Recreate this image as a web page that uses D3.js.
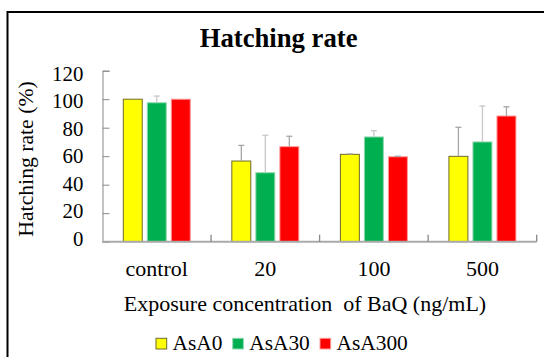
<!DOCTYPE html>
<html>
<head>
<meta charset="utf-8">
<script src="https://cdn.jsdelivr.net/npm/d3@7"></script>
<style>
  body { margin: 0; background: #fff; }
  text { font-family: "Liberation Serif", "Times New Roman", serif; fill: #000; }
</style>
</head>
<body>
<figure id="chart" style="margin:0"></figure>
<script>
// data
const categories = ["control", "20", "100", "500"];
const seriesNames = ["AsA0", "AsA30", "AsA300"];
const seriesColors = ["#ffff00", "#00b050", "#ff0000"];
const seriesStrokes = ["#6e6a2c", "#8fd8b0", "#ff9a9a"];
const asa0 = [100, 56.6, 61.3, 59.9];
const asa30 = [97.5, 48.4, 73.5, 70];
const asa300 = [100, 66.7, 59.6, 88.2];
const asa0Err = [100, 67.6, 61.6, 80.3];
const asa30Err = [102.2, 74.7, 77.9, 95.2];
const asa300Err = [100, 74, 60, 94.7];
const yTicks = [0, 20, 40, 60, 80, 100, 120];

const values = [asa0, asa30, asa300];
const errTops = [asa0Err, asa30Err, asa300Err];

const width = 544, height = 357;
const marginLeft = 102.5, marginRight = 7.3, marginTop = 70.7, marginBottom = 115.3;

const svg = d3.select("#chart").append("svg")
    .attr("width", width)
    .attr("height", height)
    .attr("viewBox", [0, 0, width, height]);

// outer frame (right/bottom edges fall outside the picture)
svg.append("rect")
    .attr("x", 7.5).attr("y", 12)
    .attr("width", 600).attr("height", 400)
    .attr("fill", "none")
    .attr("stroke", "#000")
    .attr("stroke-width", 2);

const x = d3.scaleBand()
    .domain(categories)
    .range([marginLeft, width - marginRight]);

const inner = d3.scaleBand()
    .domain(seriesNames)
    .range([x.bandwidth() / 2 - 33.5, x.bandwidth() / 2 + 33.5])
    .paddingInner(0.21);

const y = d3.scaleLinear()
    .domain([0, 120])
    .range([height - marginBottom, marginTop]);

// tick label baselines sit on a slightly tighter grid than the ticks
const yLabel = d3.scaleLinear()
    .domain([0, 120])
    .range([245.7, 80.7]);

// title
svg.append("text")
    .attr("x", 278.6).attr("y", 46.5)
    .attr("text-anchor", "middle")
    .attr("font-size", 26.7)
    .attr("font-weight", "bold")
    .text("Hatching rate");

// y axis
svg.append("g")
    .attr("transform", `translate(${marginLeft},0)`)
    .call(d3.axisRight(y).tickValues(yTicks).tickSize(7).tickFormat(""))
    .call(g => g.selectAll("path, line").attr("stroke", "#888"));

svg.append("g")
  .selectAll("text")
  .data(yTicks)
  .join("text")
    .attr("x", 83.3)
    .attr("y", d => yLabel(d))
    .attr("text-anchor", "end")
    .attr("font-size", 20.8)
    .text(d => d);

// bars
const groups = svg.append("g")
  .selectAll("g")
  .data(seriesNames)
  .join("g");

groups.each(function(name, si) {
  const g = d3.select(this);
  g.selectAll("rect")
    .data(categories)
    .join("rect")
      .attr("x", c => x(c) + inner(name))
      .attr("y", (c, ci) => y(values[si][ci]))
      .attr("width", inner.bandwidth())
      .attr("height", (c, ci) => y(0) - y(values[si][ci]))
      .attr("fill", seriesColors[si])
      .attr("stroke", seriesStrokes[si])
      .attr("stroke-width", 1);

  // upper error bars
  const eg = g.append("g").attr("stroke", si === 1 ? "#c8c8c8" : "#a6a6a6").attr("stroke-width", 1.3);
  categories.forEach((c, ci) => {
    const cx = x(c) + inner(name) + inner.bandwidth() / 2;
    if (errTops[si][ci] - values[si][ci] < 0.3) return;
    eg.append("line")
      .attr("x1", cx).attr("x2", cx)
      .attr("y1", y(values[si][ci])).attr("y2", y(errTops[si][ci]));
    eg.append("line")
      .attr("x1", cx - 3).attr("x2", cx + 3)
      .attr("y1", y(errTops[si][ci])).attr("y2", y(errTops[si][ci]));
  });
});

// x axis: ticks at category boundaries, pointing up
const xAxis = svg.append("g")
    .attr("transform", `translate(0,${y(0)})`);
xAxis.append("line")
    .attr("x1", marginLeft).attr("x2", width - marginRight)
    .attr("stroke", "#aaa").attr("stroke-width", 2);
xAxis.selectAll(".tick")
    .data(categories)
    .join("line")
      .attr("x1", d => x(d) + x.bandwidth())
      .attr("x2", d => x(d) + x.bandwidth())
      .attr("y1", 0).attr("y2", -7)
      .attr("stroke", "#888").attr("stroke-width", 1.3);

// category labels
svg.append("g")
  .selectAll("text")
  .data(categories)
  .join("text")
    .attr("x", d => x(d) + x.bandwidth() / 2)
    .attr("y", 276)
    .attr("text-anchor", "middle")
    .attr("font-size", 22)
    .text(d => d);

// axis titles
svg.append("text")
    .attr("x", 305).attr("y", 310.7)
    .attr("text-anchor", "middle")
    .attr("font-size", 22)
    .attr("xml:space", "preserve")
    .style("white-space", "pre")
    .text("Exposure concentration  of BaQ (ng/mL)");

svg.append("text")
    .attr("transform", "translate(33,159) rotate(-90)")
    .attr("text-anchor", "middle")
    .attr("font-size", 21.7)
    .text("Hatching rate (%)");

// legend
const legendX = [156, 232.7, 320];
const legend = svg.append("g")
  .selectAll("g")
  .data(seriesNames)
  .join("g")
    .attr("transform", (d, i) => `translate(${legendX[i]},338.3)`);

legend.append("rect")
    .attr("width", 10.7).attr("height", 10.7)
    .attr("fill", (d, i) => seriesColors[i])
    .attr("stroke", (d, i) => seriesStrokes[i]);

legend.append("text")
    .attr("x", 16.5).attr("y", 11.7)
    .attr("font-size", 21.4)
    .text(d => d);
</script>
</body>
</html>
